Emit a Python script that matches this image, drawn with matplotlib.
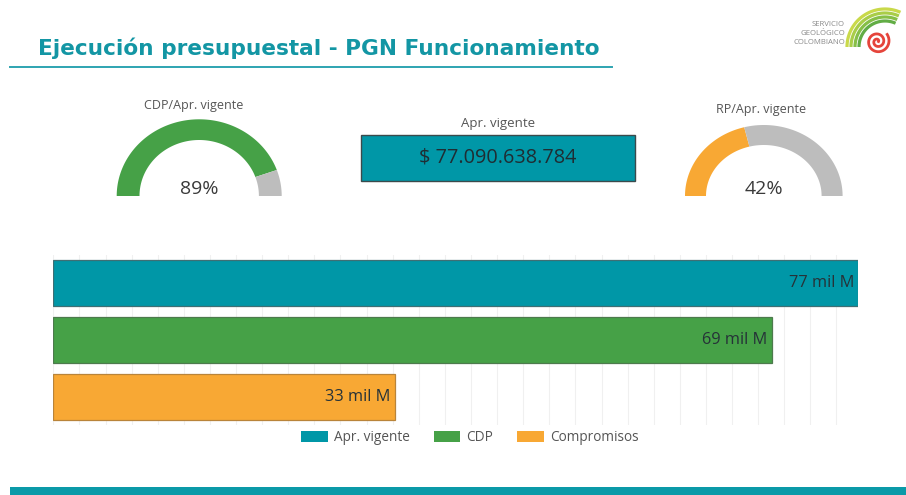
import numpy as np
import matplotlib
matplotlib.use("Agg")
import matplotlib.pyplot as plt
from matplotlib.patches import Rectangle, Patch, Polygon

plt.rcParams['font.family'] = ['Open Sans', 'DejaVu Sans']

# ---- data ----
categories = ["Apr. vigente", "CDP", "Compromisos"]
values = [77.09, 68.8, 32.7]          # miles de millones
bar_labels = ["77 mil M", "69 mil M", "33 mil M"]
apr_vigente_text = "$ 77.090.638.784"
gauge_titles = ["CDP/Apr. vigente", "RP/Apr. vigente"]
gauge_pct = [89, 42]
title = "Ejecución presupuestal - PGN Funcionamiento"

TEAL = "#0097A7"
GREEN = "#46A147"
ORANGE = "#F8A834"
GRAY = "#BDBDBD"
colors = [TEAL, GREEN, ORANGE]
edges = ["#3f6f74", "#4d7a4d", "#b9843a"]

W, H = 906, 495
fig = plt.figure(figsize=(W / 100, H / 100), dpi=100)
fig.patch.set_facecolor("white")

# overlay axes in pixel coords
ov = fig.add_axes([0, 0, 1, 1])
ov.set_xlim(0, W)
ov.set_ylim(H, 0)
ov.axis("off")

# title + underline
ov.text(38.5, 48, title, fontsize=15.6, fontweight="bold", color="#1396A4",
        ha="left", va="center", family="DejaVu Sans")
ov.plot([10, 612], [67.3, 67.3], color="#2ea4b1", lw=1.4)

# footer band
ov.add_patch(Rectangle((10, 487), W - 10, 8, facecolor="#0a9aa8", edgecolor="none"))

# logo
for i, line in enumerate(["SERVICIO", "GEOLÓGICO", "COLOMBIANO"]):
    ov.text(845, 25 + i * 8.5, line, fontsize=5.6, color="#8a8a8a",
            ha="right", va="center")
arc_cols = ["#c9d94a", "#a9cd48", "#86bf47", "#62ad45"]
for k, (r, c) in enumerate(zip([38, 34, 30, 26], arc_cols)):
    th = np.linspace(np.deg2rad(66), np.pi, 60)
    ov.plot(885 + r * np.cos(th), 47 - r * np.sin(th), color=c, lw=2.3,
            solid_capstyle="butt")
t = np.linspace(0, 4.2 * np.pi, 300)
rr = 1.0 + 11.0 * t / t.max()
ov.plot(877.5 + rr * np.cos(t), 41.5 - rr * np.sin(t), color="#e5443b", lw=2.0)

# gauges
def gauge(cx, cy, rxo, ryo, rxi, ryi, pct, col, ttl, tx, ty):
    split = np.pi * (1 - pct / 100.0)
    def band(a0, a1, c):
        th = np.linspace(a0, a1, 120)
        xo = cx + rxo * np.cos(th); yo = cy - ryo * np.sin(th)
        xi = cx + rxi * np.cos(th[::-1]); yi = cy - ryi * np.sin(th[::-1])
        ov.add_patch(Polygon(np.column_stack([np.r_[xo, xi], np.r_[yo, yi]]),
                             closed=True, facecolor=c, edgecolor="none"))
    band(split, np.pi, col)
    band(0, split, GRAY)
    ov.text(tx, ty, ttl, fontsize=9.0, color="#555555", ha="center", va="center")
    ov.text(cx, 189, f"{pct}%", fontsize=14, color="#3a3a3a", ha="center", va="center")

gauge(199.2, 196, 82.5, 76.7, 59.7, 56, gauge_pct[0], GREEN, gauge_titles[0], 194, 106)
gauge(763.8, 196, 78.8, 71, 57.8, 51, gauge_pct[1], ORANGE, gauge_titles[1], 761, 109)

# card
ov.add_patch(Rectangle((360.7, 135), 274.3, 46, facecolor=TEAL,
                       edgecolor="#3b4a4c", lw=1.0))
ov.text(497.7, 123.5, "Apr. vigente", fontsize=9.5, color="#555555",
        ha="center", va="center")
ov.text(498, 158, apr_vigente_text, fontsize=14.3, color="#1f2d33",
        ha="center", va="center")

# bar chart
x0, x1, ytop, ybot = 53.3, 858.3, 255, 425
ax = fig.add_axes([x0 / W, 1 - ybot / H, (x1 - x0) / W, (ybot - ytop) / H])
ypos = np.arange(len(categories))
bars = ax.barh(ypos, values, height=0.8, color=colors, edgecolor=edges, lw=0.9, zorder=3)
ax.set_xlim(0, values[0])
ax.set_ylim(2.49, -0.49)
ax.set_xticks(np.arange(0, 75.1, 2.5))
ax.set_yticks([])
ax.tick_params(axis="x", length=0, labelbottom=False)
ax.grid(axis="x", color="#f0f0f0", lw=0.8, zorder=0)
for s in ax.spines.values():
    s.set_visible(False)
ax.patch.set_alpha(0)
for b, lab in zip(bars, bar_labels):
    ax.annotate(lab, xy=(b.get_width(), b.get_y() + b.get_height() / 2),
                xytext=(-3, 0), textcoords="offset points", ha="right",
                va="center", fontsize=11.8, color="#263238", zorder=4)

handles = [Patch(facecolor=c, edgecolor="none") for c in colors]
fig.legend(handles, categories, loc="center", bbox_to_anchor=(470 / W, 1 - 437.5 / H),
           ncol=3, frameon=False, fontsize=9.8, handlelength=1.95, handleheight=0.9,
           handletextpad=0.45, columnspacing=1.75, labelcolor="#555555")

fig.savefig("out.png", dpi=100, facecolor="white")
